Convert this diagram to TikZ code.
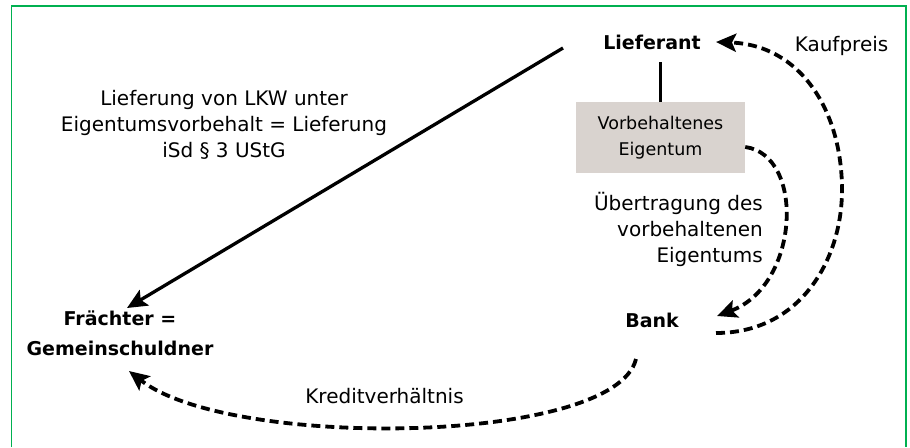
\documentclass[tikz,border=0pt]{standalone}
\usepackage{fontspec}
\setmainfont{DejaVu Sans}
\usetikzlibrary{arrows.meta,calc}
\definecolor{framegreen}{RGB}{0,176,80}
\definecolor{boxgray}{RGB}{217,211,207}
\begin{document}
\begin{tikzpicture}[x=1pt,y=-1pt,
  lbl/.style={inner sep=0pt, font=\fontsize{20}{26}\selectfont},
  party/.style={inner sep=0pt, font=\bfseries\fontsize{19}{30}\selectfont},
  tip/.style={-{Stealth[length=20pt,width=18pt,inset=4pt]}},
  solidarrow/.style={line width=3.3pt, tip},
  dasharrow/.style={line width=3.8pt, dash pattern=on 9pt off 5pt, tip}
]
\useasboundingbox (0,0) rectangle (910,447);
\draw[framegreen, line width=1.2pt] (11.5,447) -- (11.5,6) -- (906,6) -- (906,447);

\node[party] (lief) at (652,42) {Lieferant};
\node[party] (bank) at (652,320) {Bank};
\node[party, align=center] (fr) at (120,333) {Frächter =\\Gemeinschuldner};
\node[fill=boxgray, minimum width=169pt, minimum height=71pt, inner sep=0pt,
      align=center, font=\fontsize{17.5}{25.5}\selectfont] (box) at (660.5,137.5)
      {Vorbehaltenes\\Eigentum};
\node[lbl, align=center] (lkw) at (224,124.5)
      {Lieferung von LKW unter\\Eigentumsvorbehalt = Lieferung\\iSd § 3 UStG};
\node[lbl] (kauf) at (841.5,45.5) {Kaufpreis};
\node[lbl, align=right, anchor=east] (ueb) at (763,229)
      {Übertragung des\\vorbehaltenen\\Eigentums};
\node[lbl] (kredit) at (384.5,396) {Kreditverhältnis};
\coordinate (kpmid) at (842,190);

\draw[line width=2.5pt] (box.north) -- ($(box.north)+(0,-40)$);
\draw[solidarrow] ($(lief)+(-89,6)$) -- ($(fr)+(7,-25)$);
\draw[dasharrow] ($(bank)+(64,13)$) .. controls +(84,0) and +(0,70) .. (kpmid)
      .. controls +(0,-80) and +(84,3) .. ($(lief)+(64,0)$);
\draw[dasharrow] ($(box.east)+(0,9.5)$) .. controls +(60,8) and +(83,-31) .. ($(bank)+(65,-4)$);
\draw[dasharrow] ($(bank)+(-16,39)$) .. controls +(-21,86) and +(101,79) .. ($(fr)+(9,38)$);
\end{tikzpicture}
\end{document}
